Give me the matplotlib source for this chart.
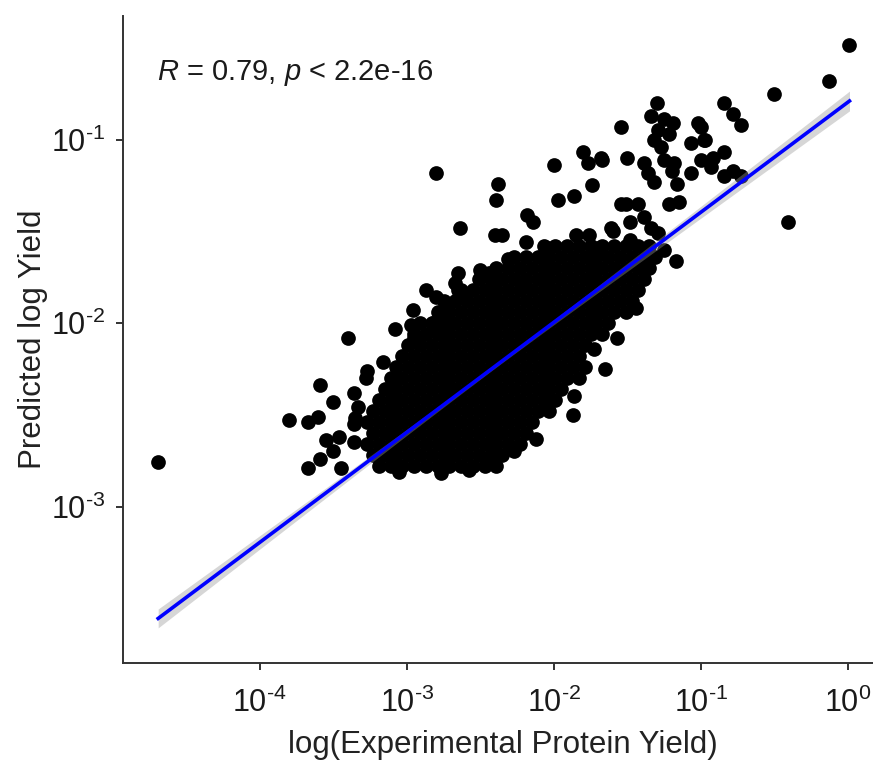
import numpy as np
import matplotlib
matplotlib.use("Agg")
import matplotlib.pyplot as plt
from matplotlib.ticker import LogLocator, NullLocator, FuncFormatter

plt.rcParams['font.family'] = ['Liberation Sans', 'DejaVu Sans']
plt.rcParams['mathtext.fontset'] = 'custom'
plt.rcParams['mathtext.rm'] = 'Liberation Sans'
plt.rcParams['mathtext.it'] = 'Liberation Sans:italic'
plt.rcParams['mathtext.default'] = 'regular'

# values are log10 of the yields
# dense middle of the cloud, one row per predicted level
core_levels = [-2.78, -2.72, -2.66, -2.60, -2.54, -2.48, -2.42, -2.36, -2.30, -2.24, -2.18,
               -2.12, -2.06, -2.00, -1.94, -1.88, -1.82, -1.76, -1.70, -1.64, -1.58]
core_rows = [
    [-3.19, -3.11, -3.03, -2.95, -2.87, -2.79, -2.71, -2.63, -2.55, -2.47, -2.39],
    [-3.23, -3.15, -3.07, -2.99, -2.91, -2.83, -2.75, -2.67, -2.59, -2.51, -2.43, -2.35],
    [-3.27, -3.19, -3.11, -3.03, -2.95, -2.87, -2.79, -2.71, -2.63, -2.55, -2.47, -2.39, -2.31, -2.23],
    [-3.23, -3.15, -3.07, -2.99, -2.91, -2.83, -2.75, -2.67, -2.59, -2.51, -2.43, -2.35, -2.27, -2.19],
    [-3.27, -3.19, -3.11, -3.03, -2.95, -2.87, -2.79, -2.71, -2.63, -2.55, -2.47, -2.39, -2.31, -2.23, -2.15],
    [-3.23, -3.15, -3.07, -2.99, -2.91, -2.83, -2.75, -2.67, -2.59, -2.51, -2.43, -2.35, -2.27, -2.19, -2.11, -2.03],
    [-3.19, -3.11, -3.03, -2.95, -2.87, -2.79, -2.71, -2.63, -2.55, -2.47, -2.39, -2.31, -2.23, -2.15, -2.07, -1.99],
    [-3.15, -3.07, -2.99, -2.91, -2.83, -2.75, -2.67, -2.59, -2.51, -2.43, -2.35, -2.27, -2.19, -2.11, -2.03, -1.95],
    [-3.11, -3.03, -2.95, -2.87, -2.79, -2.71, -2.63, -2.55, -2.47, -2.39, -2.31, -2.23, -2.15, -2.07, -1.99, -1.91, -1.83],
    [-3.07, -2.99, -2.91, -2.83, -2.75, -2.67, -2.59, -2.51, -2.43, -2.35, -2.27, -2.19, -2.11, -2.03, -1.95, -1.87, -1.79],
    [-3.03, -2.95, -2.87, -2.79, -2.71, -2.63, -2.55, -2.47, -2.39, -2.31, -2.23, -2.15, -2.07, -1.99, -1.91, -1.83],
    [-2.99, -2.91, -2.83, -2.75, -2.67, -2.59, -2.51, -2.43, -2.35, -2.27, -2.19, -2.11, -2.03, -1.95, -1.87, -1.79],
    [-2.95, -2.87, -2.79, -2.71, -2.63, -2.55, -2.47, -2.39, -2.31, -2.23, -2.15, -2.07, -1.99, -1.91, -1.83, -1.75, -1.67],
    [-2.91, -2.83, -2.75, -2.67, -2.59, -2.51, -2.43, -2.35, -2.27, -2.19, -2.11, -2.03, -1.95, -1.87, -1.79, -1.71, -1.63],
    [-2.79, -2.71, -2.63, -2.55, -2.47, -2.39, -2.31, -2.23, -2.15, -2.07, -1.99, -1.91, -1.83, -1.75, -1.67, -1.59, -1.51],
    [-2.75, -2.67, -2.59, -2.51, -2.43, -2.35, -2.27, -2.19, -2.11, -2.03, -1.95, -1.87, -1.79, -1.71, -1.63, -1.55, -1.47],
    [-2.63, -2.55, -2.47, -2.39, -2.31, -2.23, -2.15, -2.07, -1.99, -1.91, -1.83, -1.75, -1.67, -1.59, -1.51, -1.43],
    [-2.51, -2.43, -2.35, -2.27, -2.19, -2.11, -2.03, -1.95, -1.87, -1.79, -1.71, -1.63, -1.55, -1.47, -1.39],
    [-2.39, -2.31, -2.23, -2.15, -2.07, -1.99, -1.91, -1.83, -1.75, -1.67, -1.59, -1.51, -1.43, -1.35],
    [-2.27, -2.19, -2.11, -2.03, -1.95, -1.87, -1.79, -1.71, -1.63, -1.55, -1.47, -1.39, -1.31],
    [-2.07, -1.99, -1.91, -1.83, -1.75, -1.67, -1.59, -1.51, -1.43, -1.35],
]

# scattered points around the dense part
spread_x = [-4.69, -3.40, -3.59, -3.80, -3.67, -3.60, -3.50, -3.55, -3.46, -3.59, -3.67, -3.50,
            -3.36, -3.33, -3.35, -3.27, -3.28, -3.16, -3.08, -2.96, -2.97, -2.95, -2.87, -2.80,
            -2.82, -2.65, -2.67, -2.63, -3.45, -3.36, -3.36,
            -2.80, -2.64, -2.38, -2.39, -2.00, -1.80, -1.77, -1.67, -1.74, -1.86, -1.97, -2.18,
            -2.14, -2.40, -2.35, -2.19, -2.31, -2.50, -2.44, -2.65, -2.04, -1.85, -1.76, -1.60,
            -1.70, -1.54, -2.20, -1.50, -1.68,
            -1.30, -1.54, -1.34, -1.25, -1.19, -1.32, -1.27, -1.39, -1.36, -1.32, -1.20, -1.16,
            -1.18, -1.25, -1.29, -1.22, -1.02, -1.07, -0.98, -1.00, -1.07, -0.93, -0.84, -0.78,
            -0.73, -0.84, -0.78, -0.73, -0.50, -0.13, 0.01, -0.41, -0.92, -0.84, -1.00, -0.97,
            -1.51, -1.43, -1.22, -1.15, -1.61, -1.48, -1.39, -1.34, -1.29, -1.48, -1.36, -1.17,
            -1.25, -1.73, -1.65, -1.86, -1.87, -1.57, -1.44,
            -3.05, -2.77, -2.58, -2.44, -2.27, -2.12]
spread_y = [-2.76, -2.08, -2.34, -2.53, -2.54, -2.51, -2.43, -2.64, -2.62, -2.74, -2.79, -2.70,
            -2.38, -2.46, -2.52, -2.26, -2.30, -2.21, -2.03, -1.93, -2.01, -2.08, -1.82, -1.86,
            -2.00, -1.73, -1.78, -1.83, -2.79, -2.55, -2.65,
            -1.18, -1.48, -1.24, -1.33, -1.14, -1.07, -1.13, -1.11, -1.25, -1.31, -1.33, -1.41,
            -1.45, -1.52, -1.52, -1.56, -1.65, -1.71, -1.73, -1.82, -1.59, -1.52, -1.52, -1.50,
            -1.59, -1.35, -1.77, -1.10, -1.10,
            -0.80, -0.93, -0.87, -0.89, -0.91, -1.00, -1.04, -1.13, -1.18, -1.23, -1.17, -1.24,
            -1.13, -1.11, -0.95, -0.97, -0.91, -1.02, -1.00, -1.11, -1.18, -1.15, -1.07, -1.17,
            -1.20, -0.80, -0.86, -0.92, -0.75, -0.68, -0.485, -1.45, -1.10, -1.20, -0.93, -1.00,
            -1.35, -1.35, -1.35, -1.34, -1.48, -1.45, -1.42, -1.48, -1.51, -1.55, -1.66, -1.66,
            -1.60, -2.14, -2.25, -2.40, -2.50, -2.08, -1.92,
            -2.81, -2.82, -2.80, -2.76, -2.70, -2.63]

# linear fit in log-log space and its confidence band
fit_slope = 0.600
fit_intercept = -0.796
band_min = 0.010
band_center = -2.4
band_growth = 0.022

log_x = np.concatenate([np.array(r) for r in core_rows] + [np.array(spread_x)])
log_y = np.concatenate([np.full(len(r), lv) for lv, r in zip(core_levels, core_rows)] + [np.array(spread_y)])
x = 10 ** log_x
y = 10 ** log_y

fx = np.linspace(log_x.min(), log_x.max(), 200)
fy = fit_intercept + fit_slope * fx
half = np.sqrt(band_min ** 2 + (band_growth * (fx - band_center)) ** 2)


def pow_label(v, pos):
    e = int(round(np.log10(v)))
    sign = '\u2010' if e < 0 else ''
    return '$\\mathregular{10^{%s%d}}$' % (sign, abs(e))


fig = plt.figure(figsize=(8.73, 7.6), dpi=100)
ax = fig.add_axes([0.1409, 0.1276, 0.8694, 0.8513])

ax.scatter(x, y, s=112, c='black', linewidths=0, zorder=2)
ax.fill_between(10 ** fx, 10 ** (fy - half), 10 ** (fy + half), color='#999999', alpha=0.4, lw=0, zorder=3)
ax.plot(10 ** fx, 10 ** fy, color='#0000ff', lw=2.6, zorder=4)

ax.set_xscale('log')
ax.set_yscale('log')
ax.set_xlim(10 ** -4.929, 10 ** 0.231)
ax.set_ylim(10 ** -3.853, 10 ** -0.327)
ax.xaxis.set_major_locator(LogLocator(base=10, numticks=20))
ax.yaxis.set_major_locator(LogLocator(base=10, numticks=20))
ax.xaxis.set_minor_locator(NullLocator())
ax.yaxis.set_minor_locator(NullLocator())
ax.xaxis.set_major_formatter(FuncFormatter(pow_label))
ax.yaxis.set_major_formatter(FuncFormatter(pow_label))

for s in ['top', 'right']:
    ax.spines[s].set_visible(False)
for s in ['left', 'bottom']:
    ax.spines[s].set_color('#333333')
    ax.spines[s].set_linewidth(1.4)
ax.tick_params(axis='both', which='major', length=5, width=1.4, color='#333333',
               labelsize=22, labelcolor='#1a1a1a')
ax.tick_params(axis='x', pad=13)
ax.tick_params(axis='y', pad=8)

ax.set_xlabel('log(Experimental Protein Yield)', fontsize=22.5, color='#222222', labelpad=8)
ax.set_ylabel('Predicted log Yield', fontsize=22.5, color='#222222', labelpad=2)

ax.text(0.0448, 0.912, r'$\it{R}$ = 0.79, $\it{p}$ < 2.2e-16', transform=ax.transAxes,
        fontsize=21, color='#1a1a1a', ha='left', va='center')

fig.savefig('out.png', dpi=100)
